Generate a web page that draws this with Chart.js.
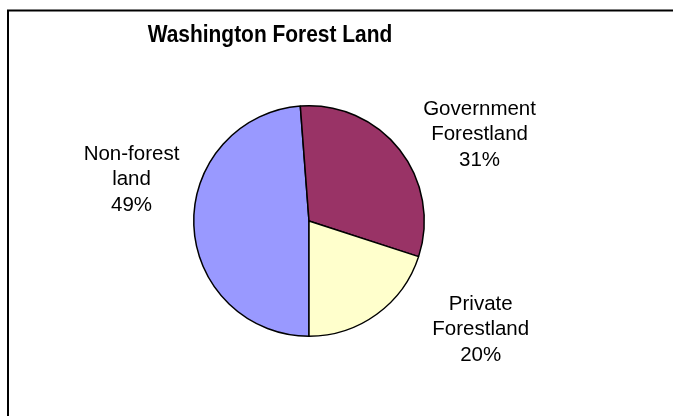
<!DOCTYPE html>
<html>
<head>
<meta charset="utf-8">
<title>Washington Forest Land</title>
<script src="https://cdn.jsdelivr.net/npm/chart.js@4"></script>
<style>
    html, body { margin: 0; padding: 0; background: #ffffff; overflow: hidden; }
    #wrap { position: relative; width: 673px; height: 416px; }
</style>
</head>
<body>
<div id="wrap"><canvas id="PieCanvas"></canvas></div>
<script>
// Chart data
const chartTitle = 'Washington Forest Land';
const categories = [['Non-forest', 'land'], ['Government', 'Forestland'], ['Private', 'Forestland']];
const shares = [48.8, 31.2, 20.0];
const sliceColors = ['#9999FF', '#993366', '#FFFFCC'];

(function() {
    const fontFamily = '"Liberation Sans", Arial, Helvetica, sans-serif';

    // where each label block sits, in units of the pie radius from the pie centre
    // [x of block centre, y of first baseline]
    const labelSpots = [[-1.54, -0.53], [1.48, -0.92], [1.49, 0.77]];
    const lineGap = 25.5;

    // Frame, title and the outside data labels are drawn by hand
    const decorPlugin = {
        id: 'decor',
        beforeDraw(chart) {
            const ctx = chart.ctx;
            ctx.save();
            ctx.fillStyle = '#ffffff';
            ctx.fillRect(0, 0, chart.width, chart.height);
            // the frame runs off the right and bottom of the picture
            ctx.strokeStyle = '#000000';
            ctx.lineWidth = 2;
            ctx.strokeRect(8, 10.5, chart.width + 20, chart.height + 20);
            ctx.restore();
        },
        afterDatasetsDraw(chart) {
            const ctx = chart.ctx;
            const arcs = chart.getDatasetMeta(0).data;
            const cx = arcs[0].x;
            const cy = arcs[0].y;
            const r = arcs[0].outerRadius;
            const total = shares.reduce((a, b) => a + b, 0);

            ctx.save();
            ctx.fillStyle = '#000000';
            ctx.textAlign = 'center';
            ctx.textBaseline = 'alphabetic';

            // title looks a bit squeezed sideways in the original
            ctx.save();
            ctx.translate(270, 42);
            ctx.scale(0.91, 1);
            ctx.font = 'bold 23px ' + fontFamily;
            ctx.fillText(chartTitle, 0, 0);
            ctx.restore();

            ctx.font = '20.5px ' + fontFamily;
            for (let i = 0; i < categories.length; i++) {
                let lines = categories[i].concat([Math.round(shares[i] / total * 100) + '%']);
                let x = cx + labelSpots[i][0] * r;
                let y = cy + labelSpots[i][1] * r;
                for (let l = 0; l < lines.length; l++) {
                    ctx.fillText(lines[l], x, y + l * lineGap);
                }
            }
            ctx.restore();
        }
    };

    const data = {
        labels: categories.map(c => c.join(' ')),
        datasets: [{
            data: shares,
            backgroundColor: sliceColors,
            borderColor: '#000000',
            borderWidth: 1.5
        }]
    };

    const config = {
        type: 'pie',
        data: data,
        options: {
            responsive: true,
            maintainAspectRatio: false,
            animation: false,
            rotation: 180,
            layout: { padding: { top: 105, bottom: 79, left: 193, right: 248 } },
            plugins: {
                legend: { display: false },
                title: { display: false },
                tooltip: { enabled: false }
            }
        },
        plugins: [decorPlugin]
    };

    new Chart(document.getElementById('PieCanvas'), config);
})();
</script>
</body>
</html>
